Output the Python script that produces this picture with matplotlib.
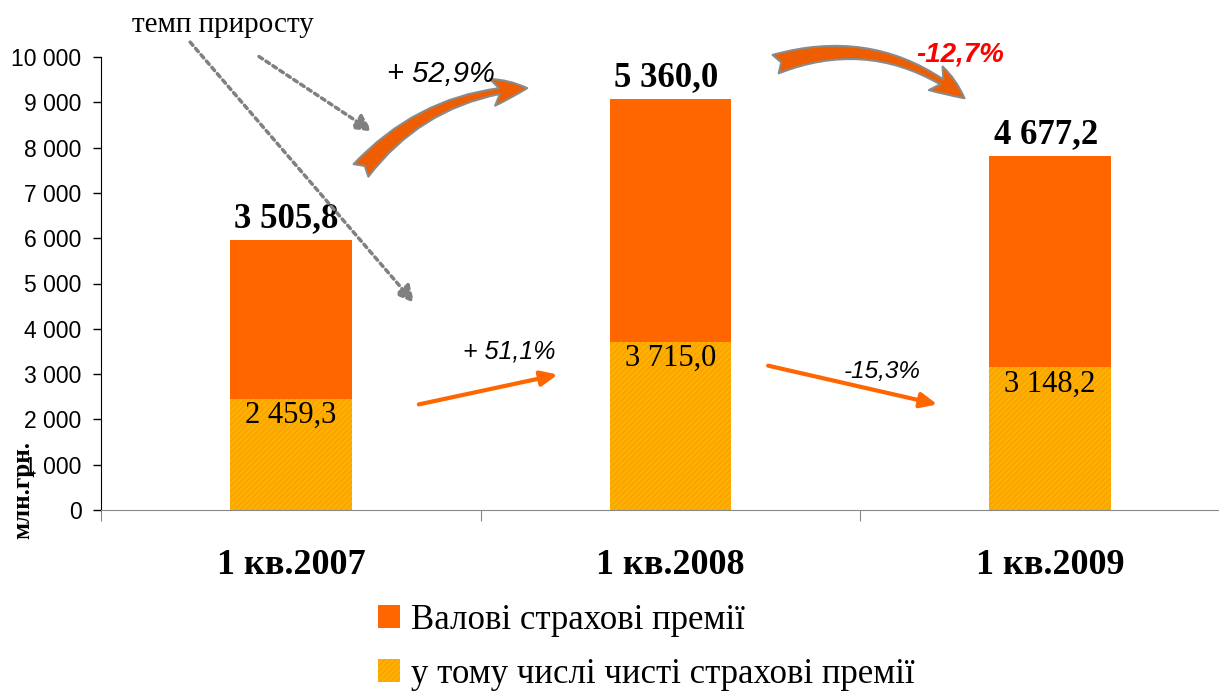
import numpy as np
import matplotlib.pyplot as plt
from matplotlib.patches import FancyArrowPatch

# quarters and premiums, mln UAH
quarters = ['1 кв.2007', '1 кв.2008', '1 кв.2009']
net_premiums = [2459.3, 3715.0, 3148.2]
gross_premiums = [3505.8, 5360.0, 4677.2]
gross_labels = ['3 505,8', '5 360,0', '4 677,2']
net_labels = ['2 459,3', '3 715,0', '3 148,2']
series_names = ['Валові страхові премії', 'у тому числі чисті страхові премії']

serif = 'Liberation Serif'
sans = 'Liberation Sans'

fig = plt.figure(figsize=(12.19, 6.93), dpi=100)
ax = fig.add_axes([101/1219, 183/693, 1139/1219, 453/693])

x = np.arange(len(quarters))
w = 0.32
b_net = ax.bar(x, net_premiums, w, color='#FFB000', edgecolor='#F7A200',
               linewidth=0, hatch='//////', zorder=2)
b_gross = ax.bar(x, gross_premiums, w, bottom=net_premiums, color='#FF6600',
                 linewidth=0, zorder=2)

ax.set_xlim(-0.5, 2.5)
ax.set_ylim(0, 10000)
ax.set_yticks(np.arange(0, 10001, 1000))
ax.set_yticklabels([f'{v:,}'.replace(',', ' ') for v in range(0, 10001, 1000)],
                   fontname=sans, fontsize=16.5)
ax.tick_params(axis='y', length=6, width=1, pad=8)
ax.set_xticks([-0.5, 0.5, 1.5, 2.5])
ax.set_xticklabels([])
ax.tick_params(axis='x', length=8, color='#888888', direction='out')
for s in ['top', 'right']:
    ax.spines[s].set_visible(False)
ax.spines['bottom'].set_color('#888888')

for i, q in enumerate(quarters):
    ax.annotate(q, xy=(i, 0), xytext=(0, -40), textcoords='offset points',
                ha='center', va='center', fontname=serif, fontsize=26,
                fontweight='bold')
    tot = net_premiums[i] + gross_premiums[i]
    ax.annotate(gross_labels[i], xy=(i, tot), xytext=(-3, 15), textcoords='offset points',
                ha='center', va='center', fontname=serif, fontsize=25,
                fontweight='bold')
    ax.annotate(net_labels[i], xy=(i, net_premiums[i]), xytext=(0, -12),
                textcoords='offset points', ha='center', va='center',
                fontname=serif, fontsize=22)

ax.text(-0.705, 450, 'млн.грн.', rotation=90, ha='center', va='center',
        fontname=serif, fontsize=18, fontweight='bold')

# growth rate annotations
ax.text(-0.18, 10700, 'темп приросту', ha='center', va='center',
        fontname=serif, fontsize=21, clip_on=False)
dot_props = dict(arrowstyle='-|>,head_length=1.0,head_width=0.5',
                 color='#808080', lw=2.5, linestyle=(0, (1.2, 1.2)))
ax.annotate('', xy=(0.33, 4525), xytext=(-0.27, 10375),
            arrowprops=dot_props, annotation_clip=False)
ax.annotate('', xy=(0.22, 8322), xytext=(-0.09, 10044),
            arrowprops=dot_props, annotation_clip=False)

ax.text(0.395, 9620, '+ 52,9%', ha='center', va='center', fontname=sans,
        fontsize=21, style='italic')
ax.text(1.763, 10050, '-12,7%', ha='center', va='center', fontname=sans,
        fontsize=20, style='italic', fontweight='bold', color='#FF0000')
ax.text(0.575, 3500, '+ 51,1%', ha='center', va='center', fontname=sans,
        fontsize=18, style='italic')
ax.text(1.557, 3050, '-15,3%', ha='center', va='center', fontname=sans,
        fontsize=17.5, style='italic')

arrow_props = dict(arrowstyle='-|>,head_length=1.0,head_width=0.45',
                   color='#FF6600', lw=3)
ax.annotate('', xy=(0.71, 3002), xytext=(0.33, 2318), arrowprops=arrow_props)
ax.annotate('', xy=(1.71, 2318), xytext=(1.25, 3200), arrowprops=arrow_props)

for start, end, rad in [((0.18, 7450), (0.63, 9316), -0.22),
                        ((1.27, 9823), (1.78, 9051), -0.28)]:
    arr = FancyArrowPatch(start, end, connectionstyle=f'arc3,rad={rad}',
                          arrowstyle='fancy,head_length=0.9,head_width=0.7,tail_width=0.5',
                          mutation_scale=28, fc='#EE5E00', ec='#8a8a8a', lw=1.5,
                          zorder=1, clip_on=False)
    ax.add_patch(arr)

fig.legend([b_gross, b_net], series_names, loc='upper left',
           bbox_to_anchor=(378/1219, 1 - 604/693), frameon=False,
           prop={'family': serif, 'size': 25}, handlelength=0.64,
           handleheight=0.64, handletextpad=0.3, labelspacing=0.6,
           borderpad=0, borderaxespad=0)

fig.savefig('out.png', dpi=100)
